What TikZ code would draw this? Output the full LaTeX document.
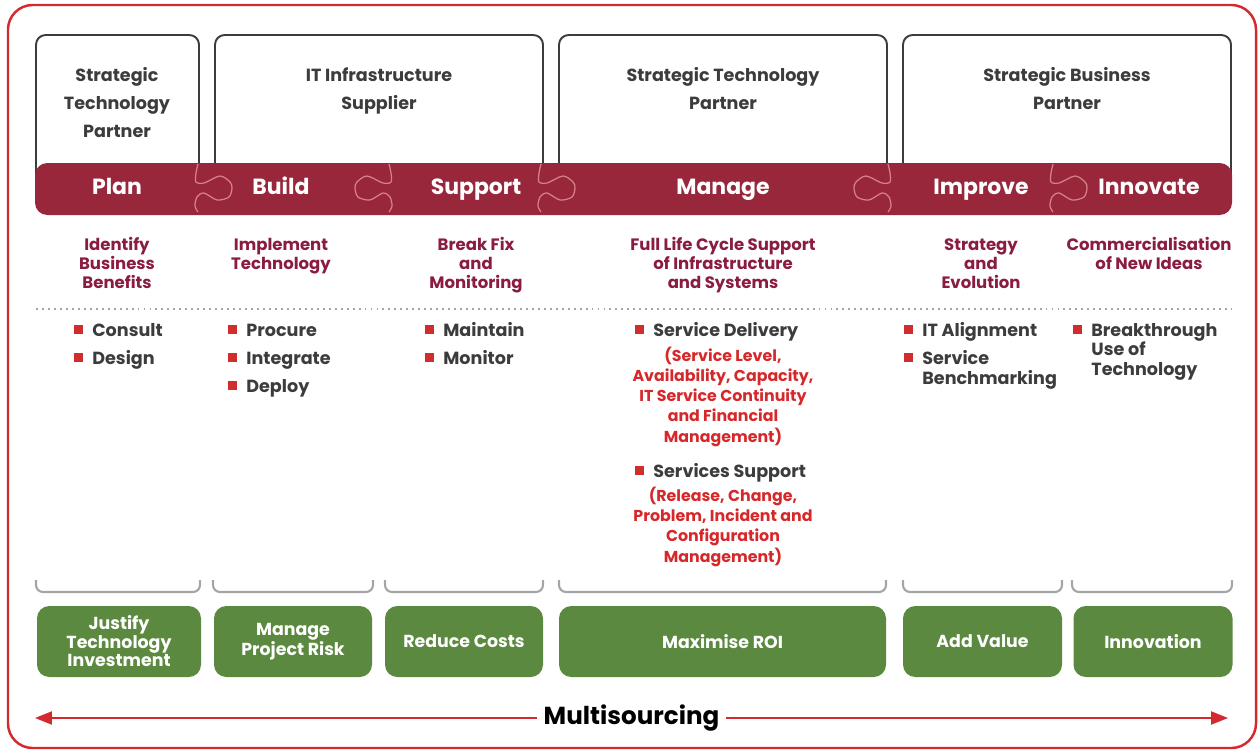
\documentclass[tikz,border=0pt]{standalone}
\usepackage{fontspec}
\setmainfont{Poppins}
\usetikzlibrary{arrows.meta,calc}

\definecolor{framered}{RGB}{211,42,46}
\definecolor{bandred}{RGB}{152,39,59}
\definecolor{knobpink}{RGB}{216,130,134}
\definecolor{aimred}{RGB}{138,28,66}
\definecolor{inkgray}{RGB}{60,60,60}
\definecolor{bulred}{RGB}{208,46,46}
\definecolor{notered}{RGB}{214,40,42}
\definecolor{goalgreen}{RGB}{91,137,63}
\definecolor{rulegray}{RGB}{165,165,165}

\newlength\pxu
\setlength\pxu{0.02cm}

\tikzset{
  role/.style={font=\bfseries\fontsize{10}{15.9}\selectfont, text=inkgray, align=center, anchor=base},
  rolebox/.style={draw=inkgray, line width=1.1pt, rounded corners=5.5pt},
  phase/.style={font=\bfseries\fontsize{12.5}{14}\selectfont, text=white, anchor=base},
  aim/.style={font=\bfseries\fontsize{9.4}{10.8}\selectfont, text=aimred, align=center, anchor=base},
  itemtext/.style={font=\bfseries\fontsize{10}{11.3}\selectfont, text=inkgray,
    inner sep=0pt, anchor=base west},
  note/.style={font=\bfseries\fontsize{9}{11.5}\selectfont, text=notered, align=center, anchor=base},
  goal/.style={fill=goalgreen, rounded corners=7pt, text=white, align=center,
    font=\bfseries\fontsize{9.9}{10.5}\selectfont, minimum height=71\pxu, inner sep=0pt},
  bracket/.style={draw=rulegray, line width=1.2pt, rounded corners=4pt},
  spanarrow/.style={framered, line width=1.1pt,
    {Triangle[length=9.6pt,width=7.4pt]}-{Triangle[length=9.6pt,width=7.4pt]}},
  knob/.pic={
    \draw[knobpink, line width=0.7pt] plot[smooth] coordinates {(1,0) (-1,9) (-1,18) (7,19)
      (23,12) (33,18) (35,24) (32,33) (20,36) (7,29) (0,33) (-2,42) (1,48)};
  }
}

% bullet item: name, x, first baseline, text
\newcommand\bul[4]{%
  \node[itemtext] (#1) at (#2,#3) {\begin{tabular}[t]{@{}l@{}}#4\end{tabular}};
  \fill[bulred] ($(#1.base west)+(-18,-2)$) rectangle ++(9,-9);}

\begin{document}
\begin{tikzpicture}[x=\pxu, y=-\pxu]
  \useasboundingbox (0,0) rectangle (1260,751);

  % Frame
  \draw[framered, line width=1.4pt, rounded corners=14pt] (8,5) rectangle (1256,748);

  % Partner boxes
  \draw[rolebox] (36,190) -- (36,35) -- (199,35) -- (199,190);
  \draw[rolebox] (215,190) -- (215,35) -- (543,35) -- (543,190);
  \draw[rolebox] (559,190) -- (559,35) -- (887,35) -- (887,190);
  \draw[rolebox] (903,190) -- (903,35) -- (1231,35) -- (1231,190);
  \node[role] (role1) at (117,137) {Strategic\\Technology\\Partner};
  \node[role] (role2) at (379,109) {IT Infrastructure\\Supplier};
  \node[role] (role3) at (723,109) {Strategic Technology\\Partner};
  \node[role] (role4) at (1067,109) {Strategic Business\\Partner};

  % Phase band
  \fill[bandred, rounded corners=7pt] (35,163) rectangle (1232,215);
  \foreach \kx/\kd in {197/1,390/-1,540/1,889/-1,1052/1}
    \pic[xscale=\kd] at (\kx,164) {knob};
  \node[phase] (plan) at (117,194) {Plan};
  \node[phase] (build) at (281,194) {Build};
  \node[phase] (support) at (476,194) {Support};
  \node[phase] (manage) at (723,194) {Manage};
  \node[phase] (improve) at (981,194) {Improve};
  \node[phase] (innovate) at (1149,194) {Innovate};

  % Aims
  \node[aim] (aim1) at (117,288) {Identify\\Business\\Benefits};
  \node[aim] (aim2) at (281,269) {Implement\\Technology};
  \node[aim] (aim3) at (476,288) {Break Fix\\and\\Monitoring};
  \node[aim] (aim4) at (723,288) {Full Life Cycle Support\\of Infrastructure\\and Systems};
  \node[aim] (aim5) at (981,288) {Strategy\\and\\Evolution};
  \node[aim] (aim6) at (1149,269) {Commercialisation\\of New Ideas};

  \draw[rulegray, line width=1.1pt, dash pattern=on 1.1pt off 2.3pt] (36,309) -- (1232,309);

  % Activities
  \bul{consult}{92}{336}{Consult}
  \bul{design}{92}{364}{Design}
  \bul{procure}{246}{336}{Procure}
  \bul{integrate}{246}{364}{Integrate}
  \bul{deploy}{246}{392}{Deploy}
  \bul{maintain}{443}{336}{Maintain}
  \bul{monitor}{443}{364}{Monitor}
  \bul{delivery}{653}{336}{Service Delivery}
  \node[note] (deliverynote) at (723,442) {(Service Level,\\Availability, Capacity,\\IT Service Continuity\\and Financial\\Management)};
  \bul{servsupport}{653}{477}{Services Support}
  \node[note] (supportnote) at (723,562) {(Release, Change,\\Problem, Incident and\\Configuration\\Management)};
  \bul{alignment}{922}{336}{IT Alignment}
  \bul{benchmark}{922}{364}{Service\\Benchmarking}
  \bul{breakthrough}{1091}{336}{Breakthrough\\Use of\\Technology}

  % Brackets
  \foreach \bx/\by in {36/200,213/373,385/543,559/886,903/1062,1072/1232}
    \draw[bracket] (\bx,580) -- (\bx,592) -- (\by,592) -- (\by,580);

  % Goals
  \node[goal, minimum width=164\pxu] (justify) at (119,641.5) {Justify\\Technology\\Investment};
  \node[goal, minimum width=158\pxu] (risk) at (293,641.5) {Manage\\Project Risk};
  \node[goal, minimum width=158\pxu] (costs) at (464,641.5) {Reduce Costs};
  \node[goal, minimum width=327\pxu] (roi) at (722.5,641.5) {Maximise ROI};
  \node[goal, minimum width=159\pxu] (value) at (982.5,641.5) {Add Value};
  \node[goal, minimum width=159\pxu] (innovation) at (1153,641.5) {Innovation};

  % Multisourcing arrow
  \coordinate (west) at (35,718);
  \coordinate (east) at (1228,718);
  \draw[spanarrow] (west) -- node[fill=white, text=black, inner sep=4pt,
    font=\bfseries\fontsize{14}{16}\selectfont] (multi) {Multisourcing} (east);
\end{tikzpicture}
\end{document}
